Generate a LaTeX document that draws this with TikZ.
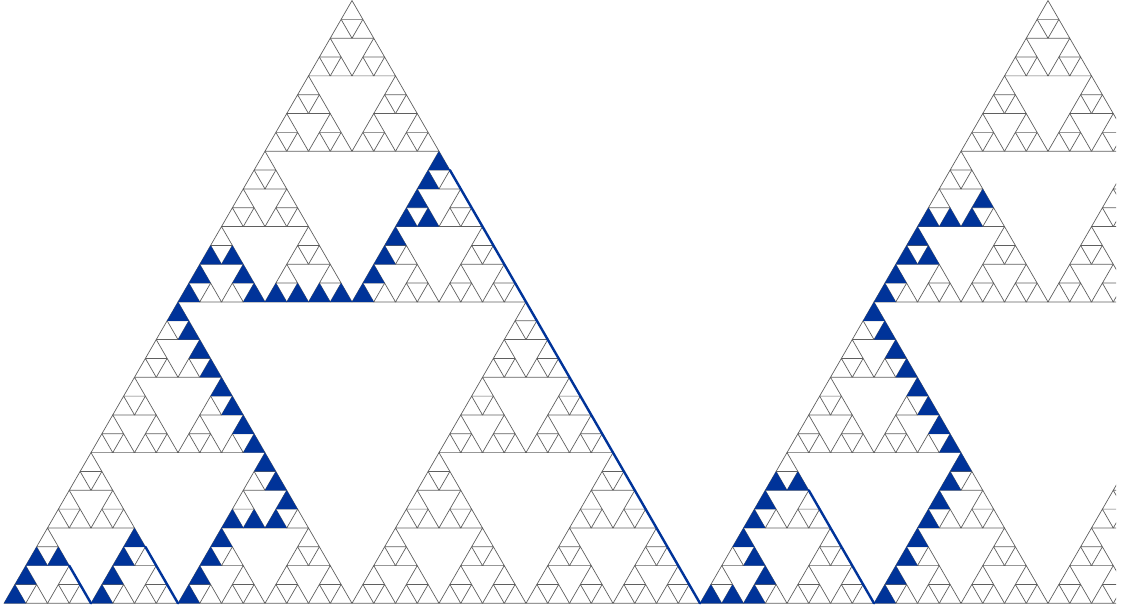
\documentclass[tikz,border=0pt]{standalone}
\definecolor{gline}{RGB}{95,95,95}
\definecolor{pathblue}{RGB}{0,51,153}
\tikzset{
  cell/.style={draw=gline,line width=0.7pt,line join=round},
  bluecell/.style={fill=pathblue},
  slide/.style={draw=pathblue,line width=2.4pt,line cap=round}
}
\newcommand{\sS}{21.75}
\newcommand{\sH}{18.836}
\newcommand{\sB}{603.3}
\newcommand{\bcell}[3]{%
  \pgfmathsetmacro\xl{#1+\sS*(#3+#2/2)}%
  \pgfmathsetmacro\yb{\sB-\sH*#2}%
  \fill[bluecell] (\xl,\yb) -- ++(\sS,0) -- ++(-\sS/2,-\sH) -- cycle;}
\begin{document}
\begin{tikzpicture}[x=1pt,y=-1pt]
\useasboundingbox (0,0) rectangle (1121,612);
\begin{scope}
\clip (-2,-5) rectangle (1116,617);
% Sierpinski gaskets (level 5)
\foreach \X in {4,700}{
  \foreach \r in {0,...,31}{
    \pgfmathtruncatemacro\cmax{31-\r}
    \foreach \c in {0,...,\cmax}{
      \pgfmathtruncatemacro\b{mod(\r,2)*mod(\c,2)+mod(floor(\r/2),2)*mod(floor(\c/2),2)+mod(floor(\r/4),2)*mod(floor(\c/4),2)+mod(floor(\r/8),2)*mod(floor(\c/8),2)+mod(floor(\r/16),2)*mod(floor(\c/16),2)}
      \ifnum\b=0
        \pgfmathsetmacro\xl{\X+\sS*(\c+\r/2)}
        \pgfmathsetmacro\yb{\sB-\sH*\r}
        \draw[cell] (\xl,\yb) -- ++(\sS,0) -- ++(-\sS/2,-\sH) -- cycle;
      \fi
    }
  }
}
% blue cells, first gasket
\foreach \r/\c in {0/0,1/0,2/0,2/1,0/4,1/4,2/4,3/4,0/8,1/8,2/8,3/8,4/8,4/9,4/10,5/10,6/9,7/8,8/7,9/6,10/5,11/4,12/3,13/2,14/1,15/0,16/0,17/0,18/0,18/1,17/2,16/3,16/4,16/5,16/6,16/7,16/8,17/8,18/8,19/8,20/8,20/9,21/8,22/8,23/8}{\bcell{4}{\r}{\c}}
% blue cells, second gasket
\foreach \r/\c in {0/0,0/1,0/2,1/2,2/1,3/0,4/0,5/0,6/0,6/1,0/8,1/8,2/8,3/8,4/8,5/8,6/8,7/8,8/7,9/6,10/5,11/4,12/3,13/2,14/1,15/0,16/0,17/0,18/0,18/1,19/0,20/0,20/1,20/2,21/2}{\bcell{700}{\r}{\c}}
% slide lines
\coordinate (a1) at ({4+3*\sS},{\sB-2*\sH});
\coordinate (a2) at ({4+4*\sS},{\sB});
\coordinate (b1) at ({4+6.5*\sS},{\sB-3*\sH});
\coordinate (b2) at ({4+8*\sS},{\sB});
\coordinate (c1) at ({4+20.5*\sS},{\sB-23*\sH});
\coordinate (c2) at ({4+32*\sS},{\sB});
\coordinate (d1) at ({700+5*\sS},{\sB-6*\sH});
\coordinate (d2) at ({700+8*\sS},{\sB});
\draw[slide] (a1) -- (a2);
\draw[slide] (b1) -- (b2);
\draw[slide] (c1) -- (c2);
\draw[slide] (d1) -- (d2);
\end{scope}
\end{tikzpicture}
\end{document}
